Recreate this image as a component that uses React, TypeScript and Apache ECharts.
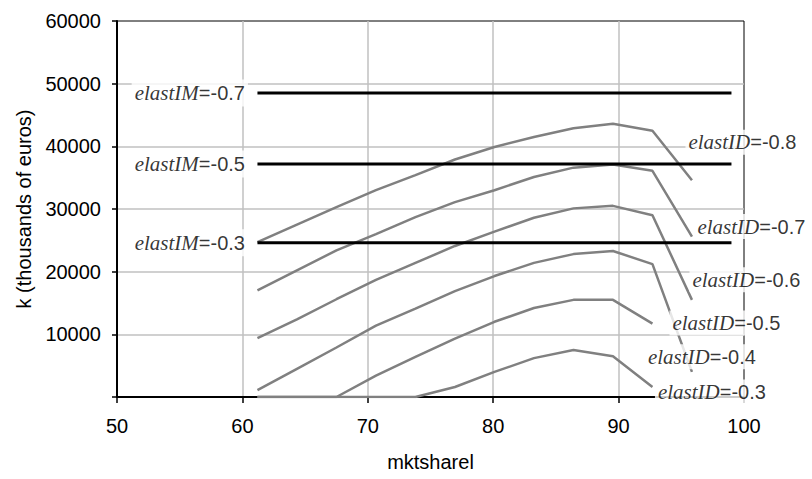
import React, { useEffect, useRef } from "react";
import * as echarts from "echarts";

// market share grid (x)
const mktshare = [61.2, 64.35, 67.5, 70.65, 73.8, 76.95, 80.1, 83.25, 86.4, 89.55, 92.7, 95.85];

// k (thousands of euros) for each elastID
const kID08 = [24700, 27500, 30300, 33000, 35400, 37900, 39900, 41500, 42900, 43600, 42500, 34600];
const kID07 = [17000, 20200, 23400, 26000, 28700, 31100, 33000, 35100, 36600, 37100, 36100, 25600];
const kID06 = [9400, 12400, 15600, 18700, 21400, 24100, 26400, 28600, 30100, 30500, 29000, 15500];
const kID05 = [1100, 4500, 7900, 11400, 14100, 16900, 19300, 21400, 22800, 23300, 21200, 4000];
const kID04 = [0, 0, 0, 3400, 6400, 9300, 12000, 14200, 15500, 15500, 11700];
const kID03 = [0, 0, 0, 0, 0, 1600, 4000, 6200, 7500, 6500, 1600];

const idValues = ["-0.8", "-0.7", "-0.6", "-0.5", "-0.4", "-0.3"];
const idCurves = [kID08, kID07, kID06, kID05, kID04, kID03];

// horizontal elastIM levels
const imValues = ["-0.7", "-0.5", "-0.3"];
const imLevels = [48500, 37200, 24600];
const imRange = [61.2, 99];

// axis ticks
const xTicks = [50, 60, 70, 80, 90, 100];
const yTicks = [0, 10000, 20000, 30000, 40000, 50000, 60000];

// label offsets (styling only)
const idLabelOffsets = [
  [-7, -38],
  [2, -10],
  [-3, -20],
  [-23, -49],
  [-8, 33],
  [2, 5],
];

const richStyles = {
  i: { fontFamily: "Liberation Serif", fontStyle: "italic", fontSize: 21, color: "#000" },
  n: { fontFamily: "Liberation Sans", fontSize: 20, color: "#000" },
};

export default function App() {
  const ref = useRef<HTMLDivElement>(null);
  useEffect(() => {
    document.body.style.margin = "0";
    const chart = echarts.init(ref.current!, null, { renderer: "svg" });

    const curveSeries = idCurves.map((vals, i) => ({
      type: "line",
      name: "elastID=" + idValues[i],
      data: vals.map((v, j) => [mktshare[j], v]),
      showSymbol: false,
      symbol: "none",
      lineStyle: { color: "#808080", width: 2.5 },
      z: 2,
      silent: true,
    }));

    const imSeries = imLevels.map((lv, i) => ({
      type: "line",
      name: "elastIM=" + imValues[i],
      data: imRange.map((x) => [x, lv]),
      showSymbol: false,
      symbol: "none",
      lineStyle: { color: "#000", width: 3 },
      z: 3,
      silent: true,
    }));

    const labelData: any[] = [];
    const labelOffsets: number[][] = [];
    idCurves.forEach((vals, i) => {
      const last = vals.length - 1;
      labelOffsets.push(idLabelOffsets[i]);
      labelData.push({
        value: [mktshare[last], vals[last]],
        label: {
          show: true,
          position: "right",
          distance: 0,
          formatter: "{i|elastID}{n|=" + idValues[i] + "}",
          backgroundColor: "#fff",
          padding: [2, 3],
          rich: richStyles,
        },
      });
    });
    imLevels.forEach((lv, i) => {
      labelOffsets.push([-9, 0]);
      labelData.push({
        value: [imRange[0], lv],
        label: {
          show: true,
          position: "left",
          distance: 0,
          formatter: "{i|elastIM}{n|=" + imValues[i] + "}",
          backgroundColor: "#fff",
          padding: [3, 3],
          rich: richStyles,
        },
      });
    });

    chart.setOption({
      animation: false,
      grid: {
        left: 117,
        right: 68,
        top: 21,
        bottom: 82,
        show: true,
        borderColor: "#000",
        borderWidth: 1,
        backgroundColor: "transparent",
      },
      xAxis: {
        type: "value",
        min: xTicks[0],
        max: xTicks[xTicks.length - 1],
        interval: 10,
        name: "mktsharel",
        nameLocation: "middle",
        nameGap: 55,
        nameTextStyle: { fontFamily: "Liberation Sans", fontSize: 20, color: "#000" },
        axisLine: { show: true, lineStyle: { color: "#000", width: 2 } },
        axisTick: { show: true, inside: false, length: 6, lineStyle: { color: "#000", width: 1.5 } },
        axisLabel: { fontFamily: "Liberation Sans", fontSize: 20, color: "#000", margin: 19 },
        splitLine: { show: true, showMinLine: false, showMaxLine: false, lineStyle: { color: "#c0c0c0", width: 1.5 } },
      },
      yAxis: {
        type: "value",
        min: yTicks[0],
        max: yTicks[yTicks.length - 1],
        interval: 10000,
        name: "k (thousands of euros)",
        nameLocation: "middle",
        nameGap: 82,
        nameTextStyle: { fontFamily: "Liberation Sans", fontSize: 20, color: "#000" },
        axisLine: { show: true, lineStyle: { color: "#000", width: 2 } },
        axisTick: { show: true, inside: false, length: 5, lineStyle: { color: "#000", width: 1.5 } },
        axisLabel: {
          fontFamily: "Liberation Sans",
          fontSize: 20,
          color: "#000",
          margin: 16,
          formatter: (v: number) => (v === 0 ? "" : String(v)),
        },
        splitLine: { show: true, showMinLine: false, showMaxLine: false, lineStyle: { color: "#c0c0c0", width: 1.5 } },
      },
      series: [
        ...curveSeries,
        ...imSeries,
        {
          type: "scatter",
          name: "labels",
          data: labelData,
          symbol: "circle",
          symbolSize: 1,
          itemStyle: { color: "rgba(0,0,0,0)" },
          z: 10,
          silent: true,
          labelLayout: (params: any) => ({
            dx: labelOffsets[params.dataIndex][0],
            dy: labelOffsets[params.dataIndex][1],
          }),
        },
      ],
    });
    return () => chart.dispose();
  }, []);
  return <div ref={ref} style={{ width: 812, height: 479 }} />;
}
